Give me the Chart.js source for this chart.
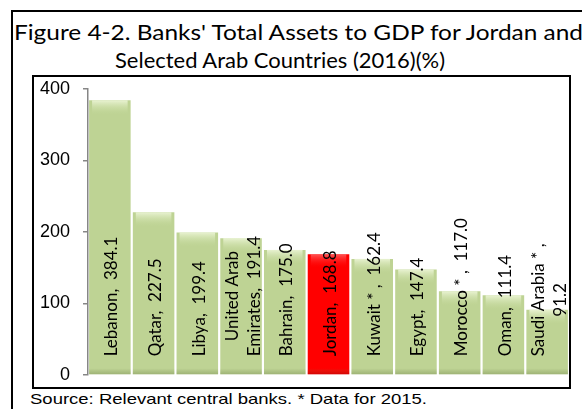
<!DOCTYPE html>
<html>
<head>
<meta charset="utf-8">
<script src="https://cdn.jsdelivr.net/npm/chart.js@4/dist/chart.umd.min.js"></script>
<style>
  body { margin: 0; width: 582px; height: 409px; overflow: hidden; background: #fff; position: relative; }
  .frame { position: absolute; left: 11px; top: 10px; width: 700px; height: 500px; border: 2px solid #000; }
  .plotbox { position: absolute; left: 32px; top: 75px; width: 535px; height: 310px; border: 2px solid #000; }
  .txt { position: absolute; white-space: nowrap; transform-origin: 0 0; color: #000; line-height: 1; }
  .title { font-family: Lato, sans-serif; font-size: 21px; }
  .source { font-family: "Liberation Sans", Arial, sans-serif; font-size: 15px; }
  canvas { position: absolute; left: 0; top: 0; }
</style>
</head>
<body>
<div class="frame"></div>
<div class="plotbox"></div>
<div class="txt title" id="t1" data-w="569" style="left:14px; top:21px;">Figure 4-2. Banks' Total Assets to GDP for Jordan and</div>
<div class="txt title" id="t2" data-w="330" style="left:115px; top:49px;">Selected Arab Countries (2016)(%)</div>
<div class="txt source" id="src" data-w="397" style="left:30px; top:391px;">Source: Relevant central banks. * Data for 2015.</div>
<canvas id="chart" width="582" height="409"></canvas>
<script>
// data
const countries = ['Lebanon', 'Qatar', 'Libya', 'United Arab Emirates', 'Bahrain', 'Jordan', 'Kuwait *', 'Egypt', 'Morocco *', 'Oman', 'Saudi Arabia *'];
const values = [384.1, 227.5, 199.4, 191.4, 175.0, 168.8, 162.4, 147.4, 117.0, 111.4, 91.2];
const yTicks = [0, 100, 200, 300, 400];
// data labels as they wrap in the original
const labelLines = [
    ['Lebanon,  384.1'],
    ['Qatar,  227.5'],
    ['Libya,  199.4'],
    ['United Arab', 'Emirates,  191.4'],
    ['Bahrain,  175.0'],
    ['Jordan,  168.8'],
    ['Kuwait * ,  162.4'],
    ['Egypt,  147.4'],
    ['Morocco * ,  117.0'],
    ['Oman,  111.4'],
    ['Saudi Arabia * ,', '91.2']
];
const highlight = 'Jordan';

// squeeze html text to the widths seen in the picture
document.querySelectorAll('.txt').forEach(el => {
    const w = el.getBoundingClientRect().width;
    el.style.transform = 'scaleX(' + (parseFloat(el.dataset.w) / w) + ')';
});

function barFill(context) {
    const chart = context.chart;
    const el = chart.getDatasetMeta(0).data[context.dataIndex];
    const name = countries[context.dataIndex];
    if (!el || el.x === undefined || isNaN(el.x)) return name === highlight ? '#ff0000' : '#bed394';
    const half = el.width / 2;
    const g = chart.ctx.createLinearGradient(el.x - half, 0, el.x + half, 0);
    if (name === highlight) {
        g.addColorStop(0, '#d80000');
        g.addColorStop(0.12, '#ff1010');
        g.addColorStop(0.5, '#ff0000');
        g.addColorStop(0.88, '#ff0c0c');
        g.addColorStop(1, '#cc0000');
    } else {
        g.addColorStop(0, '#a3ba77');
        g.addColorStop(0.12, '#bdd291');
        g.addColorStop(0.5, '#c6da9c');
        g.addColorStop(0.88, '#bacf8d');
        g.addColorStop(1, '#9cb270');
    }
    return g;
}

// light bevel at the top of each bar
const bevel = {
    id: 'bevel',
    afterDatasetsDraw(chart) {
        const ctx = chart.ctx;
        chart.getDatasetMeta(0).data.forEach((bar, i) => {
            const half = bar.width / 2;
            const red = countries[i] === highlight;
            const g = ctx.createLinearGradient(0, bar.y, 0, bar.y + 14);
            g.addColorStop(0, red ? 'rgba(255,120,120,0.7)' : 'rgba(240,248,220,0.85)');
            g.addColorStop(1, red ? 'rgba(255,0,0,0)' : 'rgba(200,220,160,0)');
            ctx.save();
            ctx.fillStyle = g;
            ctx.fillRect(bar.x - half + 3, bar.y, bar.width - 6, 14);
            const b = ctx.createLinearGradient(0, bar.base - 6, 0, bar.base);
            b.addColorStop(0, 'rgba(120,140,80,0)');
            b.addColorStop(1, red ? 'rgba(150,0,0,0.4)' : 'rgba(120,140,80,0.45)');
            ctx.fillStyle = b;
            ctx.fillRect(bar.x - half, bar.base - 6, bar.width, 6);
            ctx.restore();
        });
    }
};

// rotated labels anchored near the base of each bar
const barLabels = {
    id: 'barLabels',
    afterDatasetsDraw(chart) {
        const ctx = chart.ctx;
        ctx.save();
        ctx.font = '17px Lato, sans-serif';
        ctx.fillStyle = '#000';
        ctx.textAlign = 'center';
        ctx.textBaseline = 'middle';
        chart.getDatasetMeta(0).data.forEach((bar, i) => {
            const lines = labelLines[i];
            const widths = lines.map(l => ctx.measureText(l).width);
            const maxW = Math.max(...widths);
            const lh = 22;
            const startY = bar.base - 18;
            const cy = startY - maxW / 2;
            const cx0 = bar.x + 2 - (lines.length - 1) * lh / 2;
            lines.forEach((l, k) => {
                ctx.save();
                ctx.translate(cx0 + k * lh, cy);
                ctx.rotate(-Math.PI / 2);
                ctx.fillText(l, 0, 0);
                ctx.restore();
            });
        });
        ctx.restore();
    }
};

new Chart(document.getElementById('chart'), {
    type: 'bar',
    data: {
        labels: countries,
        datasets: [{
            data: values,
            backgroundColor: barFill,
            borderWidth: 0,
            barPercentage: 0.95,
            categoryPercentage: 1.0
        }]
    },
    options: {
        responsive: false,
        animation: false,
        layout: { padding: { left: 32, right: 13, top: 89, bottom: 34 } },
        plugins: { legend: { display: false }, tooltip: { enabled: false } },
        scales: {
            x: { display: false },
            y: {
                min: yTicks[0],
                max: yTicks[yTicks.length - 1],
                afterFit(scale) { scale.width = 56; },
                afterBuildTicks(scale) { scale.ticks = yTicks.map(v => ({ value: v })); },
                ticks: {
                    padding: 13,
                    color: '#000',
                    font: { family: '"Liberation Sans", Arial, sans-serif', size: 18 }
                },
                grid: { drawOnChartArea: false, drawTicks: true, tickLength: 5, color: '#868686', lineWidth: 1.5 },
                border: { display: true, color: '#868686', width: 1.5 }
            }
        }
    },
    plugins: [bevel, barLabels]
});
</script>
</body>
</html>
